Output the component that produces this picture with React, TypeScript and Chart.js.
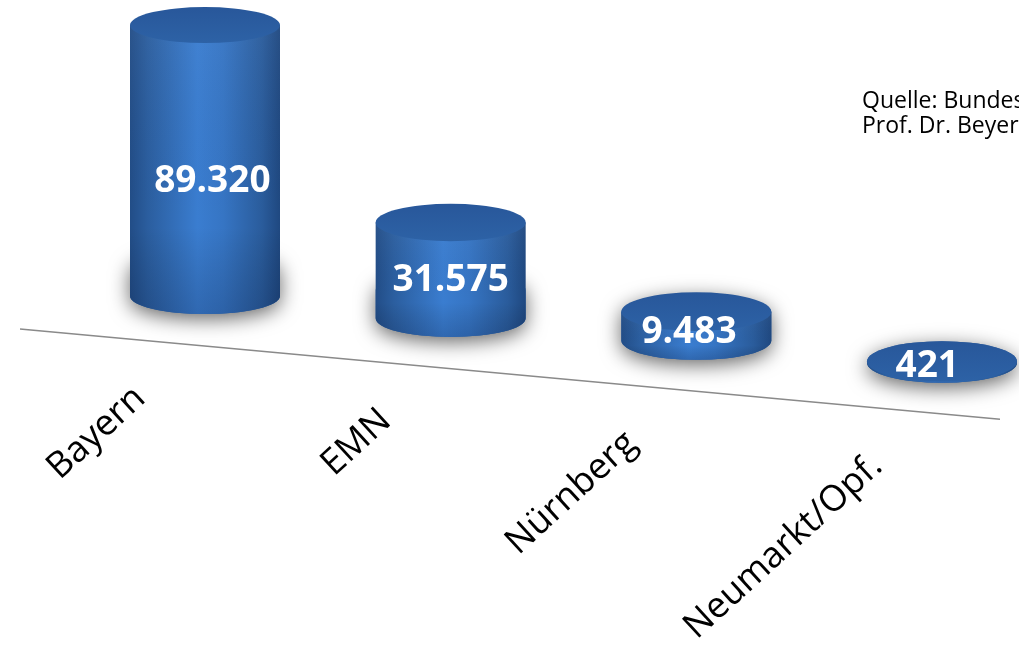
import React, { useEffect, useRef } from "react";
import { Chart, registerables } from "chart.js";

Chart.register(...registerables);

// ---- data ----
const categories = ["Bayern", "EMN", "Nürnberg", "Neumarkt/Opf."];
const values = [89320, 31575, 9483, 421];
const sourceLines = ["Quelle: Bundesagentur für Arbeit", "Prof. Dr. Beyer"];

const fmt = (v: number) => String(v).replace(/\B(?=(\d{3})+(?!\d))/g, ".");

const SLOPE = 0.0905; // perspective slant of the floor
const LABEL_FONT = '"Open Sans", sans-serif';

function drawCylinder(ctx: CanvasRenderingContext2D, cx: number, top: number, bot: number, rx: number, ry: number) {
  // soft shadow around the foot
  ctx.save();
  ctx.shadowColor = "rgba(0,0,0,0.6)";
  ctx.shadowBlur = 20;
  ctx.shadowOffsetY = 5;
  ctx.fillStyle = "#2a5b9b";
  ctx.beginPath();
  const st = Math.max(top, bot - 28);
  ctx.moveTo(cx - rx, st);
  ctx.lineTo(cx - rx, bot);
  ctx.ellipse(cx, bot, rx, ry, 0, Math.PI, 0, true);
  ctx.lineTo(cx + rx, st);
  ctx.ellipse(cx, st, rx, ry, 0, 0, Math.PI, true);
  ctx.closePath();
  ctx.fill();
  ctx.restore();

  // body
  ctx.save();
  const g = ctx.createLinearGradient(cx - rx, 0, cx + rx, 0);
  g.addColorStop(0, "#224d87");
  g.addColorStop(0.12, "#2b5e9f");
  g.addColorStop(0.45, "#3a7dd0");
  g.addColorStop(0.62, "#3675c4");
  g.addColorStop(0.88, "#2a5c9c");
  g.addColorStop(1, "#1f4880");
  ctx.fillStyle = g;
  ctx.beginPath();
  ctx.moveTo(cx - rx, top);
  ctx.lineTo(cx - rx, bot);
  ctx.ellipse(cx, bot, rx, ry, 0, Math.PI, 0, true);
  ctx.lineTo(cx + rx, top);
  ctx.closePath();
  ctx.fill();
  // darker toward the foot
  const v = ctx.createLinearGradient(0, top, 0, bot + ry);
  v.addColorStop(0, "rgba(255,255,255,0.04)");
  v.addColorStop(0.7, "rgba(0,0,0,0)");
  v.addColorStop(1, "rgba(0,10,40,0.18)");
  ctx.fillStyle = v;
  ctx.fill();
  ctx.restore();

  // top face
  ctx.save();
  const t = ctx.createLinearGradient(0, top - ry, 0, top + ry);
  t.addColorStop(0, "#28579a");
  t.addColorStop(1, "#2d62a6");
  ctx.fillStyle = t;
  ctx.beginPath();
  ctx.ellipse(cx, top, rx, ry, 0, 0, Math.PI * 2);
  ctx.fill();
  ctx.restore();
}

const cylinderPlugin = {
  id: "cylinders",
  beforeDatasetsDraw(chart: any) {
    const ctx: CanvasRenderingContext2D = chart.ctx;
    const xs = chart.scales.x;
    const ys = chart.scales.y;
    const base0 = ys.getPixelForValue(0);
    const left = xs.left;
    const lineY = (x: number) => base0 + (x - left) * 0.092 + 50;

    ctx.save();
    // floor edge / axis line
    ctx.strokeStyle = "#8a8a8a";
    ctx.lineWidth = 1.5;
    ctx.beginPath();
    ctx.moveTo(20, lineY(20));
    ctx.lineTo(1000, lineY(1000));
    ctx.stroke();

    // category labels
    ctx.fillStyle = "#000";
    ctx.font = `36px ${LABEL_FONT}`;
    ctx.textAlign = "right";
    ctx.textBaseline = "alphabetic";
    (chart.data.labels as string[]).forEach((lab, i) => {
      const x = xs.getPixelForTick(i) - 58;
      const y = lineY(x) + 60;
      ctx.save();
      ctx.translate(x, y);
      ctx.rotate((-42.5 * Math.PI) / 180);
      ctx.fillText(lab, 0, 0);
      ctx.restore();
    });

    // source note
    ctx.font = `23px ${LABEL_FONT}`;
    ctx.textAlign = "left";
    sourceLines.forEach((s, i) => ctx.fillText(s, 862, 108 + i * 25));
    ctx.restore();
  },
  afterDatasetsDraw(chart: any) {
    const ctx: CanvasRenderingContext2D = chart.ctx;
    const xs = chart.scales.x;
    const left = xs.left;
    const refX = xs.getPixelForTick(1);
    const meta = chart.getDatasetMeta(0);
    meta.data.forEach((bar: any, i: number) => {
      const { x, y, base, width } = bar.getProps(["x", "y", "base", "width"], true);
      const shift = (x - left) * SLOPE;
      const top = y + shift;
      const bot = base + shift;
      const ry = 18 + i * 0.7;
      drawCylinder(ctx, x, top, bot, width / 2, ry);

      const h = bot - top;
      const cy = (top + bot) / 2 + 0.062 * h + 2;
      const tx = x - (x - refX) * 0.03;
      ctx.save();
      ctx.fillStyle = "#ffffff";
      ctx.font = `bold 37px ${LABEL_FONT}`;
      ctx.textAlign = "center";
      ctx.textBaseline = "alphabetic";
      ctx.fillText(fmt(chart.data.datasets[0].data[i] as number), tx, cy + 13);
      ctx.restore();
    });
  },
};

export default function App() {
  const ref = useRef<HTMLCanvasElement | null>(null);
  useEffect(() => {
    document.body.style.margin = "0";
    const canvas = ref.current;
    if (!canvas) return;
    const chart = new Chart(canvas, {
      type: "bar",
      data: {
        labels: categories,
        datasets: [
          {
            data: values,
            backgroundColor: "rgba(0,0,0,0)",
            borderWidth: 0,
            barThickness: 150,
          },
        ],
      },
      options: {
        animation: false,
        responsive: false,
        maintainAspectRatio: false,
        layout: { padding: { left: 205, right: 77, top: 23, bottom: 353 } },
        scales: {
          x: { type: "category", display: false, offset: false },
          y: { type: "linear", display: false, min: 0, max: 90000 },
        },
        plugins: { legend: { display: false }, tooltip: { enabled: false } },
      },
      plugins: [cylinderPlugin],
    });
    return () => chart.destroy();
  }, []);
  return (
    <div style={{ width: 1019, height: 649, background: "#fff" }}>
      <canvas ref={ref} width={1019} height={649} style={{ display: "block" }} />
    </div>
  );
}
